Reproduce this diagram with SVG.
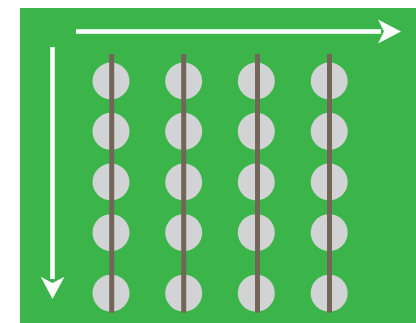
<svg xmlns="http://www.w3.org/2000/svg" width="416" height="323" viewBox="0 0 416 323">
<style>
.dot{fill:#d1d3d4}
.bar{fill:#736658}
.arr{fill:#ffffff}
</style>
<rect x="0" y="0" width="416" height="323" fill="#ffffff"/>
<rect x="20" y="8" width="396" height="315" fill="#3bb54a"/>
<g id="connectors">
<rect class="arr" x="76" y="29.2" width="305" height="4.6"/>
<polygon class="arr" points="401,31.5 378,19.5 384,31.5 378,43.5"/>
<rect class="arr" x="50.2" y="47" width="4.6" height="232"/>
<polygon class="arr" points="52.5,299 40.7,276.7 52.5,283 64.5,276.7"/>
</g>
<g id="col1">
<circle class="dot" cx="111" cy="81" r="18.5"/>
<circle class="dot" cx="111" cy="131.3" r="18.5"/>
<circle class="dot" cx="111" cy="182" r="18.5"/>
<circle class="dot" cx="111" cy="232.7" r="18.5"/>
<circle class="dot" cx="111" cy="293.2" r="18.5"/>
<rect class="bar" x="109.2" y="54" width="5" height="258.7"/>
</g>
<g id="col2">
<circle class="dot" cx="183.7" cy="81" r="18.5"/>
<circle class="dot" cx="183.7" cy="131.3" r="18.5"/>
<circle class="dot" cx="183.7" cy="182" r="18.5"/>
<circle class="dot" cx="183.7" cy="232.7" r="18.5"/>
<circle class="dot" cx="183.7" cy="293.2" r="18.5"/>
<rect class="bar" x="181.2" y="54" width="5" height="258.7"/>
</g>
<g id="col3">
<circle class="dot" cx="256.3" cy="81" r="18.5"/>
<circle class="dot" cx="256.3" cy="131.3" r="18.5"/>
<circle class="dot" cx="256.3" cy="182" r="18.5"/>
<circle class="dot" cx="256.3" cy="232.7" r="18.5"/>
<circle class="dot" cx="256.3" cy="293.2" r="18.5"/>
<rect class="bar" x="255" y="54" width="5" height="258.7"/>
</g>
<g id="col4">
<circle class="dot" cx="329.2" cy="81" r="18.5"/>
<circle class="dot" cx="329.2" cy="131.3" r="18.5"/>
<circle class="dot" cx="329.2" cy="182" r="18.5"/>
<circle class="dot" cx="329.2" cy="232.7" r="18.5"/>
<circle class="dot" cx="329.2" cy="293.2" r="18.5"/>
<rect class="bar" x="327" y="54" width="5" height="258.7"/>
</g>
</svg>
